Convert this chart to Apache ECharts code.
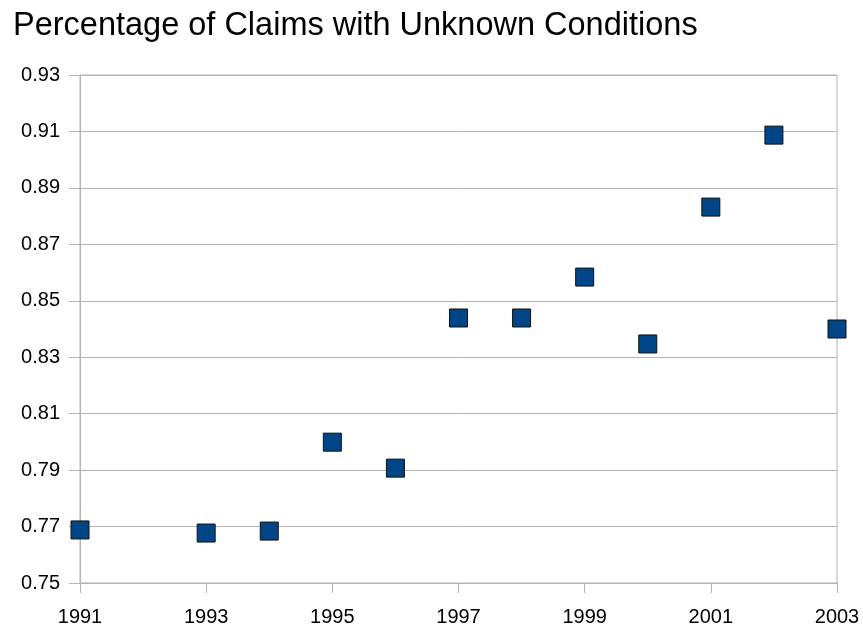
<!DOCTYPE html>
<html>
<head>
<meta charset="utf-8">
<script src="https://cdn.jsdelivr.net/npm/echarts@6/dist/echarts.min.js"></script>
<style>
  html, body { margin: 0; padding: 0; background: #fff; }
  #chart { width: 863px; height: 627px; }
</style>
</head>
<body>
<div id="chart"></div>
<script>
// data
var years = [1991, 1993, 1994, 1995, 1996, 1997, 1998, 1999, 2000, 2001, 2002, 2003];
var shares = [0.7688, 0.7677, 0.7684, 0.7999, 0.7907, 0.8439, 0.8439, 0.8584, 0.8347, 0.8832, 0.9087, 0.8400];

var points = [];
for (var i = 0; i < years.length; i++) {
    points.push([years[i], shares[i]]);
}

var chart = echarts.init(document.getElementById('chart'));
var option = {
    backgroundColor: '#fff',
    animation: false,
    title: {
        text: 'Percentage of Claims with Unknown Conditions',
        left: 13,
        top: 10,
        padding: 0,
        textStyle: {
            fontFamily: 'Liberation Sans',
            fontWeight: 'normal',
            fontSize: 32.5,
            color: '#000'
        }
    },
    grid: {
        left: 80,
        top: 75,
        width: 757,
        height: 508,
        show: true,
        borderColor: '#b3b3b3',
        borderWidth: 1
    },
    xAxis: {
        type: 'value',
        min: 1991,
        max: 2003,
        interval: 2,
        axisLine: { show: true, lineStyle: { color: '#b3b3b3' } },
        axisTick: { show: true, length: 10, inside: false, lineStyle: { color: '#b3b3b3' } },
        splitLine: { show: false },
        axisLabel: {
            color: '#000',
            fontFamily: 'Liberation Sans',
            fontSize: 20,
            margin: 24,
            formatter: function(v) { return String(v); }
        }
    },
    yAxis: {
        type: 'value',
        min: 0.75,
        max: 0.93,
        interval: 0.02,
        axisLine: { show: true, lineStyle: { color: '#b3b3b3' } },
        axisTick: { show: true, length: 11, lineStyle: { color: '#b3b3b3' } },
        splitLine: { show: true, lineStyle: { color: '#b3b3b3' } },
        axisLabel: {
            color: '#000',
            fontFamily: 'Liberation Sans',
            fontSize: 20,
            margin: 20,
            formatter: function(v) { return v.toFixed(2); }
        }
    },
    series: [{
        type: 'scatter',
        data: points,
        symbol: 'rect',
        symbolSize: 18,
        itemStyle: {
            color: '#004586',
            opacity: 1,
            borderColor: '#111',
            borderWidth: 1
        }
    }]
};
chart.setOption(option);
</script>
</body>
</html>
